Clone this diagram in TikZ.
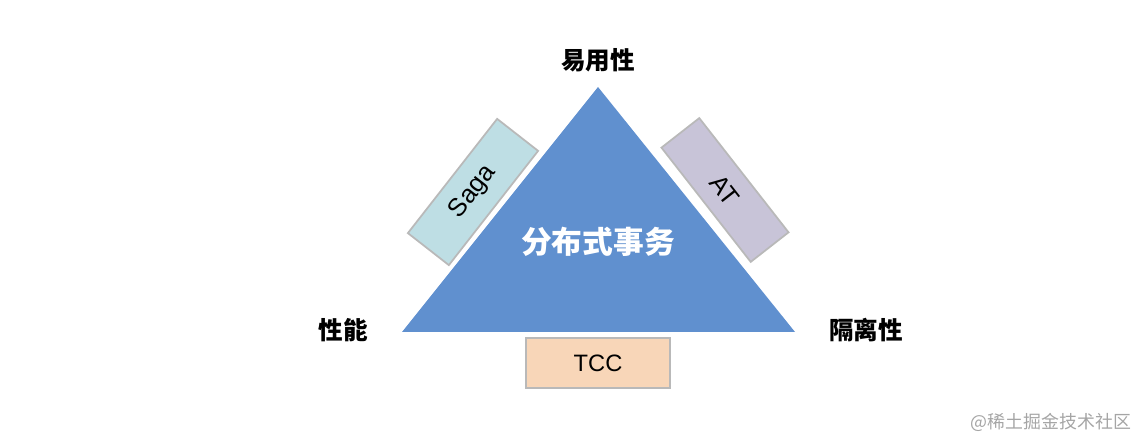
\documentclass[tikz,border=0pt]{standalone}
\usepackage{fontspec}
\setmainfont{Liberation Sans}
\newfontfamily\cjk{Noto Sans CJK SC}
\usetikzlibrary{positioning}
\definecolor{triblue}{RGB}{96,144,207}
\definecolor{sagablue}{RGB}{190,222,228}
\definecolor{atlilac}{RGB}{200,196,216}
\definecolor{tccpeach}{RGB}{248,214,184}
\definecolor{boxgray}{RGB}{185,185,185}
\definecolor{markgray}{RGB}{165,165,165}

\begin{document}
\begin{tikzpicture}[x=0.02cm, y=-0.02cm,
      tag/.style={rectangle, draw=boxgray, line width=1pt, inner sep=0pt,
                  minimum width=2.9cm, minimum height=1cm, font=\fontsize{14.5}{16}\selectfont},
      corner/.style={font=\cjk\bfseries\fontsize{14}{16}\selectfont}]
    \useasboundingbox (0,0) rectangle (1146,448);
    \coordinate (top) at (598,87);
    \coordinate (left) at (402,332);
    \coordinate (right) at (795,332);
    \fill[triblue] (top) -- (left) -- (right) -- cycle;
    \node[font=\cjk\bfseries\fontsize{17.5}{20}\selectfont, text=white] (core) at (598,242) {分布式事务};
    \node[corner] (ease) at (598,60)  {易用性};
    \node[corner] (perf) at (343,330) {性能};
    \node[corner] (iso)  at (866,330) {隔离性};
    \node[tag, fill=sagablue, rotate=52, minimum height=1.04cm] (saga) at (473,192) {Saga};
    \node[tag, fill=atlilac, rotate=-52, minimum height=0.96cm] (at) at (725,190) {AT};
    \node[tag, fill=tccpeach, minimum width=2.88cm, font=\fontsize{13.5}{15}\selectfont] (tcc) at (598,363) {TCC};
    \node[font=\cjk\fontsize{10.2}{12}\selectfont, text=markgray] (mark) at (1051,422) {@稀土掘金技术社区};
  \end{tikzpicture}
\end{document}
